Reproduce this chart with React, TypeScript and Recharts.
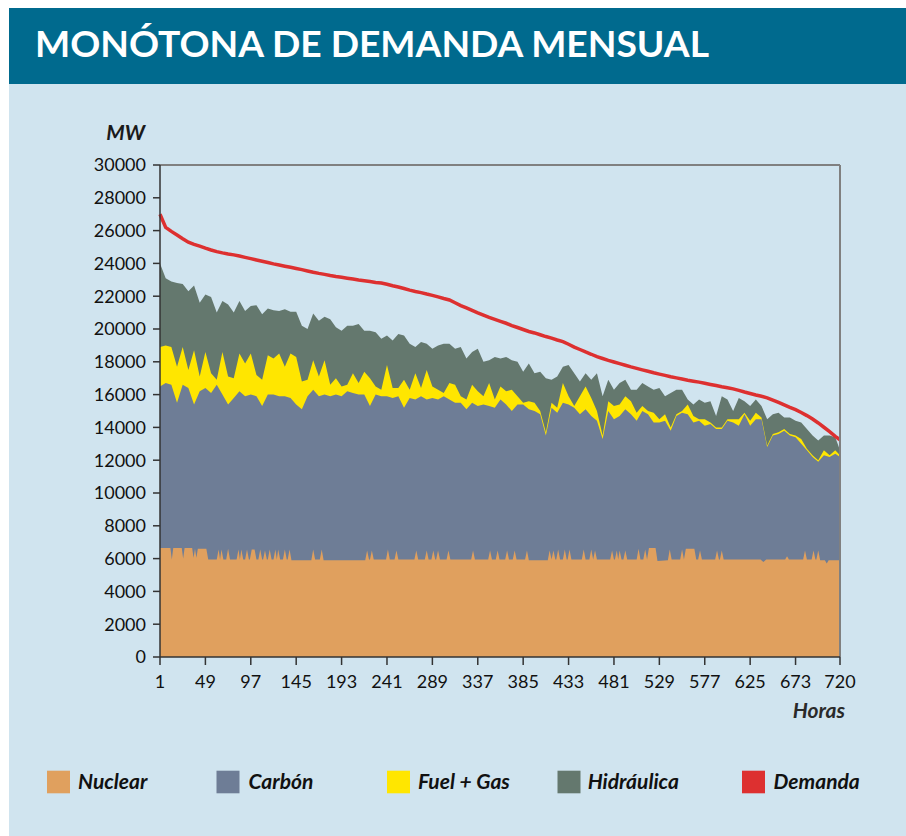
import React from 'react';
import { ComposedChart, Area, Line, XAxis, YAxis, ReferenceLine } from 'recharts';

const hours = [
  1, 7, 13, 19, 25, 31, 37, 43, 49, 55,
  61, 67, 73, 79, 85, 91, 97, 103, 109, 115,
  121, 127, 133, 139, 145, 151, 157, 163, 169, 175,
  181, 187, 193, 199, 205, 211, 217, 223, 229, 235,
  241, 247, 253, 259, 265, 271, 277, 283, 289, 295,
  301, 307, 313, 319, 325, 331, 337, 343, 349, 355,
  361, 367, 373, 379, 385, 391, 397, 403, 409, 415,
  421, 427, 433, 439, 445, 451, 457, 463, 469, 475,
  481, 487, 493, 499, 505, 511, 517, 523, 529, 535,
  541, 547, 553, 559, 565, 571, 577, 583, 589, 595,
  601, 607, 613, 619, 625, 631, 637, 643, 649, 655,
  661, 667, 673, 679, 685, 691, 697, 703, 709, 715,
  720,
];

// Nuclear (MW), read at its own hours (narrow spikes)
const nuclearHours = [
  1, 12, 13.5, 15, 24, 25.5, 27, 35, 36.5, 38, 39.5, 41, 50, 52,
  61, 63, 64.5, 66, 68, 71, 73, 75, 82, 84, 85.5, 87, 89, 91, 93, 95,
  96, 98, 101, 103, 105, 107, 109, 110, 112, 114, 115, 117, 119,
  121, 123, 124.5, 126, 128, 131, 133, 135, 136, 138, 140,
  161, 163, 165, 170, 172, 174, 218, 220, 222, 223, 225, 227,
  240, 242, 244, 249, 251, 253, 270, 272, 274, 281, 283, 285,
  288, 290, 292, 293, 295, 297, 304, 306, 308, 330, 332, 334,
  348, 350, 352, 356, 358, 360, 366, 368, 370, 374, 376, 378,
  387, 389, 391, 411, 413, 415, 417, 419, 420, 422, 424,
  427, 429, 431, 432, 434, 436, 447, 449, 451,
  455, 457, 459, 461, 463, 477, 479, 481, 482, 484, 485.5, 487, 489,
  491, 493, 495, 505, 507, 509, 512, 514, 516, 518, 525, 527,
  538, 540, 542, 551, 553, 555, 557, 566, 568, 570, 572, 574,
  588, 590, 592, 593, 595, 597, 636, 639, 642, 662, 664, 666,
  681, 683, 685, 690, 692, 694, 695, 697, 699, 704, 706, 708, 720,
];
const nuclearMW = [
  6650, 6650, 5950, 6650, 6650, 6000, 6650, 6650, 6050, 6600, 6050, 6600, 6600, 5950,
  5950, 6550, 5950, 6550, 5950, 5950, 6600, 5950, 5950, 6550, 5950, 6550, 5950, 5950, 6550, 5950,
  5950, 6550, 6550, 5950, 5950, 6550, 5950, 5950, 6500, 5950, 5950, 6550, 5950,
  5950, 6550, 5950, 6550, 5950, 5950, 6550, 5950, 5950, 6550, 5900,
  5900, 6550, 5950, 5950, 6550, 5900, 5900, 6500, 5950, 5950, 6500, 5950,
  5950, 6550, 5950, 5950, 6500, 5950, 5950, 6500, 5950, 5950, 6500, 5950,
  5950, 6500, 5950, 5950, 6500, 5950, 5950, 6500, 5950, 5950, 6500, 5950,
  5950, 6500, 5950, 5950, 6500, 5950, 5950, 6500, 5950, 5950, 6500, 5950,
  5950, 6500, 5900, 5900, 6500, 5950, 6500, 5950, 5950, 6550, 5950,
  5950, 6550, 5950, 5950, 6550, 5950, 5950, 6550, 5950,
  5950, 6550, 5950, 6500, 5950, 5950, 6500, 5950, 5950, 6500, 5950, 6500, 5950,
  5950, 6500, 5950, 5950, 6600, 5950, 5950, 6550, 5950, 6650, 6650, 5850,
  5900, 6550, 5950, 5950, 6550, 5950, 6600, 6600, 5950, 5950, 6500, 5950,
  5950, 6500, 5950, 5950, 6500, 5950, 5950, 5800, 5950, 5950, 6150, 5950,
  5950, 6500, 5950, 5950, 6500, 5950, 5950, 6500, 5900, 5900, 5700, 5900, 5900,
];

// Nuclear + Carbón (cumulative level, MW)
const carbonTop = [
  16500, 16700, 16600, 15500, 16600, 16400, 15400, 16200, 16400, 16100,
  16600, 16000, 15400, 15800, 16200, 15900, 16000, 15900, 15300, 16000,
  16000, 15900, 15900, 15800, 15400, 15100, 15900, 16300, 15900, 16000,
  15900, 16000, 15900, 16200, 16100, 16000, 16000, 15300, 16000, 15900,
  15900, 15800, 15900, 15200, 15800, 15700, 15900, 15700, 15800, 15700,
  15900, 15700, 15500, 15500, 15100, 15500, 15300, 15400, 15300, 15200,
  15700, 15400, 15000, 15400, 15400, 15100, 15000, 14800, 13500, 15200,
  14900, 15500, 15400, 15200, 14800, 15100, 14700, 14400, 13300, 15000,
  14500, 14700, 15100, 14800, 14400, 15000, 14800, 14300, 14300, 14400,
  13800, 14700, 14900, 14800, 14300, 14400, 14100, 14200, 13900, 13900,
  14400, 14300, 14100, 14800, 14100, 14500, 14500, 12800, 13500, 13600,
  13800, 13500, 13400, 13000, 12600, 12200, 11900, 12300, 12200, 12400,
  12200,
];

// + Fuel + Gas (cumulative level, MW)
const fuelGasTop = [
  18900, 19000, 18900, 17700, 18900, 17500, 18700, 17100, 18600, 17300,
  16900, 18600, 17100, 17000, 18500, 17900, 18500, 17200, 16900, 18400,
  18200, 18500, 17700, 18500, 18300, 16800, 16900, 18100, 17100, 18100,
  16600, 17000, 16500, 16600, 17300, 16700, 17400, 17000, 16500, 16300,
  17800, 16400, 16400, 16900, 16300, 17300, 16400, 17500, 16500, 16300,
  16100, 16700, 16600, 15900, 15700, 16600, 16200, 15900, 16700, 15700,
  16500, 16200, 16300, 15900, 15500, 15600, 15500, 15000, 13700, 15500,
  15200, 16700, 15900, 15300, 15900, 16500, 15800, 15000, 13500, 15600,
  15300, 15400, 15900, 15600, 14900, 15300, 15000, 14900, 14500, 14800,
  14000, 14800, 15000, 15400, 14700, 14500, 14500, 14300, 14000, 14000,
  14500, 14500, 14500, 14900, 14400, 14900, 14600, 12900, 13600, 13700,
  13900, 13600, 13500, 13300, 12700, 12300, 12000, 12600, 12300, 12600,
  12300,
];

// + Hidráulica (cumulative level, MW)
const hidraulicaTop = [
  24000, 23100, 22900, 22800, 22750, 22300, 22650, 21600, 22100, 21950,
  21000, 21700, 21500, 21000, 21700, 21100, 21400, 21450, 20900, 21250,
  21150, 21100, 21200, 21050, 21050, 20200, 20000, 20950, 20500, 20750,
  20600, 20100, 19900, 20200, 20200, 20300, 19900, 19900, 19800, 19400,
  19600, 19300, 19700, 19600, 19100, 18900, 19200, 19100, 18800, 19000,
  19100, 19100, 18800, 18900, 18200, 18600, 18800, 18000, 18100, 18300,
  18200, 18300, 18100, 18000, 17400, 17900, 17300, 17400, 17000, 16900,
  17100, 17700, 17800, 17300, 16800, 17300, 16900, 17300, 15900, 16900,
  16300, 16700, 16900, 16300, 16300, 16700, 16500, 16300, 16400, 15900,
  16100, 16300, 16300, 15700, 15400, 15700, 15500, 15600, 14700, 15900,
  15700, 15000, 15800, 15600, 15300, 15700, 15300, 14500, 14800, 14900,
  14600, 14600, 14400, 14300, 13900, 13500, 13200, 13500, 13500, 13400,
  12600,
];

// Demanda (MW)
const demanda = [
  27000, 26200, 25950, 25730, 25500, 25290, 25160, 25050, 24930, 24820,
  24720, 24640, 24570, 24520, 24450, 24370, 24290, 24210, 24130, 24050,
  23970, 23900, 23830, 23760, 23690, 23620, 23540, 23460, 23390, 23330,
  23260, 23200, 23150, 23100, 23050, 22990, 22940, 22890, 22840, 22800,
  22730, 22640, 22560, 22470, 22370, 22290, 22220, 22130, 22050, 21960,
  21860, 21770, 21600, 21430, 21290, 21140, 20990, 20850, 20710, 20590,
  20470, 20350, 20210, 20090, 19970, 19850, 19760, 19650, 19540, 19440,
  19330, 19230, 19070, 18900, 18750, 18600, 18460, 18310, 18200, 18090,
  17990, 17890, 17790, 17690, 17600, 17510, 17420, 17330, 17250, 17170,
  17090, 17020, 16950, 16880, 16820, 16760, 16690, 16620, 16550, 16480,
  16420, 16350, 16260, 16160, 16070, 15980, 15900, 15800, 15660, 15520,
  15370, 15220, 15080, 14910, 14720, 14510, 14270, 14010, 13740, 13450,
  13250,
];

const xTicks = [1, 49, 97, 145, 193, 241, 289, 337, 385, 433, 481, 529, 577, 625, 673, 720];
const yTicks = [0, 2000, 4000, 6000, 8000, 10000, 12000, 14000, 16000, 18000, 20000, 22000, 24000, 26000, 28000, 30000];

const legendNames = ['Nuclear', 'Carbón', 'Fuel + Gas', 'Hidráulica', 'Demanda'];
const legendColors = ['#e0a05e', '#6e7d96', '#ffe600', '#64786e', '#dd3030'];

const data = hours.map((h, i) => ({
  hora: h,
  carbon: carbonTop[i],
  fuel: fuelGasTop[i],
  hidraulica: hidraulicaTop[i],
  demanda: demanda[i],
}));

const nuclearData = nuclearHours.map((h, i) => ({ hora: h, nuclear: nuclearMW[i] }));

const W = 897;
const H = 828;
const FONT = 'Lato, "Open Sans", sans-serif';

const legendSquareX = [38, 207.5, 378, 548.5, 733];
const legendTextX = [69, 239.5, 409, 578.7, 764.5];

export default function App() {
  const tick = { fontSize: 18, fill: '#111', fontFamily: FONT };
  return (
    <div
      style={{
        position: 'absolute',
        left: 9,
        top: 8,
        width: W,
        height: H,
        background: '#d0e4ef',
        fontFamily: FONT,
        overflow: 'hidden',
      }}
    >
      <div style={{ position: 'absolute', left: 0, top: 0, width: W, height: 76, background: '#006a8e' }} />
      <div style={{ position: 'absolute', left: 0, top: 0 }}>
        <ComposedChart
          width={W}
          height={H}
          data={data}
          margin={{ top: 157, right: 66, left: 81, bottom: 149 }}
        >
          <XAxis
            dataKey="hora"
            type="number"
            domain={[1, 720]}
            ticks={xTicks}
            interval={0}
            tickSize={8}
            tickMargin={10}
            height={30}
            axisLine={{ stroke: '#333', strokeWidth: 1.5 }}
            tickLine={{ stroke: '#333', strokeWidth: 1.5 }}
            tick={tick}
          />
          <YAxis
            type="number"
            domain={[0, 30000]}
            ticks={yTicks}
            interval={0}
            width={70}
            tickSize={7}
            tickMargin={7}
            axisLine={{ stroke: '#333', strokeWidth: 1.5 }}
            tickLine={{ stroke: '#333', strokeWidth: 1.5 }}
            tick={tick}
          />
          <Area type="linear" dataKey="hidraulica" name="Hidráulica" fill="#64786e" fillOpacity={1} stroke="none" dot={false} activeDot={false} isAnimationActive={false} />
          <Area type="linear" dataKey="fuel" name="Fuel + Gas" fill="#ffe600" fillOpacity={1} stroke="none" dot={false} activeDot={false} isAnimationActive={false} />
          <Area type="linear" dataKey="carbon" name="Carbón" fill="#6e7d96" fillOpacity={1} stroke="none" dot={false} activeDot={false} isAnimationActive={false} />
          <Area type="linear" data={nuclearData} dataKey="nuclear" name="Nuclear" fill="#e0a05e" fillOpacity={1} stroke="none" dot={false} activeDot={false} isAnimationActive={false} />
          <Line type="linear" dataKey="demanda" name="Demanda" stroke="#dd3030" strokeWidth={3.5} dot={false} activeDot={false} isAnimationActive={false} />
          <ReferenceLine y={30000} stroke="#808080" strokeWidth={2} />
          <ReferenceLine x={720} stroke="#808080" strokeWidth={2} />
        </ComposedChart>
      </div>
      <svg
        width={W}
        height={H}
        style={{ position: 'absolute', left: 0, top: 0, pointerEvents: 'none' }}
      >
        <text x={26} y={48.5} fontSize={36} fontWeight={700} fill="#ffffff" fontFamily={FONT} textLength={674} lengthAdjust="spacingAndGlyphs">
          MONÓTONA DE DEMANDA MENSUAL
        </text>
        <text x={136} y={132} fontSize={21} fontWeight={700} fontStyle="italic" fill="#1a1a1a" fontFamily={FONT} textAnchor="end">
          MW
        </text>
        <text x={836} y={710} fontSize={21} fontWeight={700} fontStyle="italic" fill="#2a2a2a" fontFamily={FONT} textAnchor="end">
          Horas
        </text>
        {legendNames.map((name, i) => (
          <g key={name}>
            <rect x={legendSquareX[i]} y={762.7} width={23} height={22.6} fill={legendColors[i]} />
            <text x={legendTextX[i]} y={780.5} fontSize={21} fontWeight={700} fontStyle="italic" fill="#111" fontFamily={FONT}>
              {name}
            </text>
          </g>
        ))}
      </svg>
    </div>
  );
}
